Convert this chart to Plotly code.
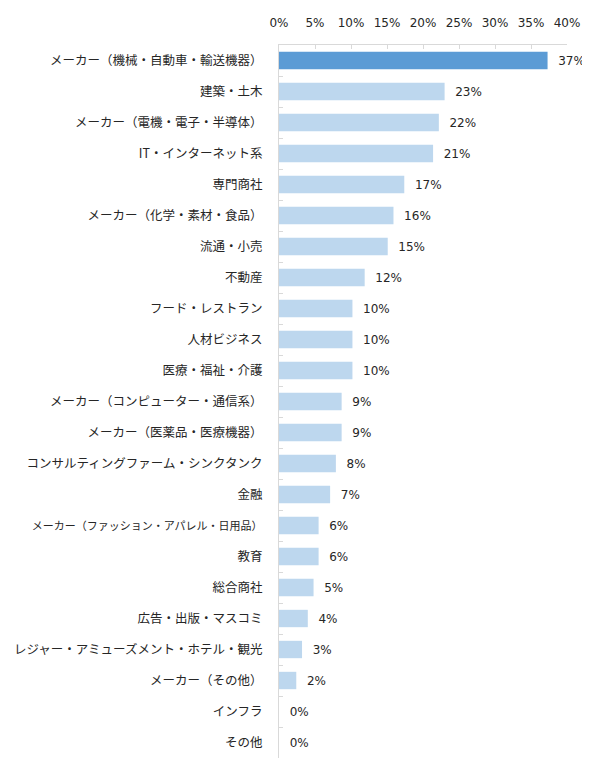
import plotly.graph_objects as go

categories = [
    "メーカー（機械・自動車・輸送機器）",
    "建築・土木",
    "メーカー（電機・電子・半導体）",
    "IT・インターネット系",
    "専門商社",
    "メーカー（化学・素材・食品）",
    "流通・小売",
    "不動産",
    "フード・レストラン",
    "人材ビジネス",
    "医療・福祉・介護",
    "メーカー（コンピューター・通信系）",
    "メーカー（医薬品・医療機器）",
    "コンサルティングファーム・シンクタンク",
    "金融",
    "メーカー（ファッション・アパレル・日用品）",
    "教育",
    "総合商社",
    "広告・出版・マスコミ",
    "レジャー・アミューズメント・ホテル・観光",
    "メーカー（その他）",
    "インフラ",
    "その他",
]
values = [37.3, 23.0, 22.2, 21.4, 17.4, 15.9, 15.1, 11.9, 10.2, 10.2, 10.2,
          8.7, 8.7, 7.9, 7.1, 5.5, 5.5, 4.8, 4.0, 3.2, 2.4, 0.0, 0.0]
tick_vals = [0, 5, 10, 15, 20, 25, 30, 35, 40]
tick_text = [f"{v}%" for v in tick_vals]

colors = ["#5B9BD5"] + ["#BDD7EE"] * (len(values) - 1)

# long label drawn a little smaller so it fits, as in the reference
cat_text = [
    f'<span style="font-size:11px">{c}</span>' if len(c) > 20 else c
    for c in categories
]

fig = go.Figure(go.Bar(
    x=values, y=categories, orientation="h",
    marker=dict(color=colors, line=dict(width=0)),
    width=0.56,
    text=[f"  {round(v)}%" for v in values],
    textposition="outside",
    textfont=dict(size=12, color="#262626", family="DejaVu Sans"),
    cliponaxis=False,
))

fig.update_layout(
    width=582, height=757,
    margin=dict(l=271, r=23, t=37, b=7),
    plot_bgcolor="white", paper_bgcolor="white",
    font=dict(family="Noto Sans CJK JP", size=12.5, color="#262626"),
    showlegend=False,
    xaxis=dict(
        side="top", range=[0, 40], tickvals=tick_vals, ticktext=tick_text,
        showgrid=False, zeroline=False, showline=True, linecolor="#D9D9D9",
        ticks="inside", ticklen=4, tickcolor="#D9D9D9",
        tickfont=dict(size=12, color="#262626", family="DejaVu Sans"),
        automargin=False, ticklabelstandoff=12,
    ),
    yaxis=dict(
        autorange="reversed", showgrid=False, showline=True, linecolor="#D9D9D9",
        ticks="inside", ticklen=4, tickcolor="#D9D9D9", tickson="boundaries",
        tickmode="array", tickvals=categories, ticktext=cat_text,
        tickfont=dict(size=12.5, color="#262626"), ticklabelstandoff=13,
        automargin=False,
    ),
)

fig.write_html("out.html")
